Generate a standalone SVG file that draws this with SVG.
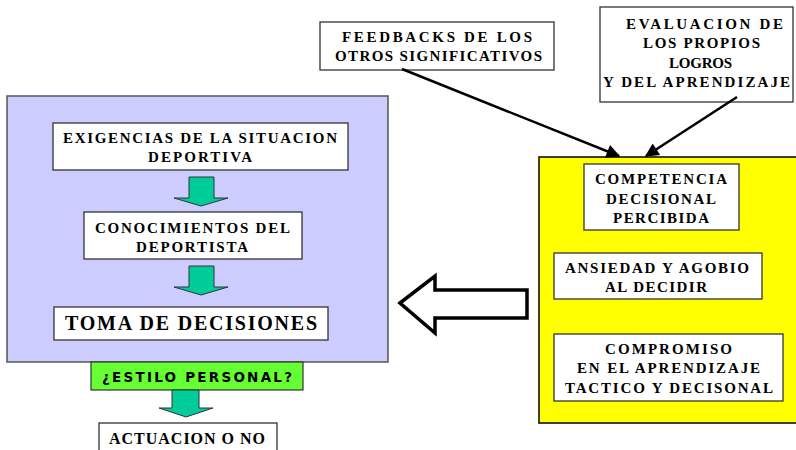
<svg xmlns="http://www.w3.org/2000/svg" width="796" height="450" viewBox="0 0 796 450">
<style>
.box{fill:#ffffff;stroke:#333333;stroke-width:1.3}
.t{font-family:'Liberation Serif','Times New Roman',serif;font-weight:700;font-size:15px;fill:#000000;text-anchor:middle}
.g{fill:#00CC99;stroke:#333333;stroke-width:1}
.conn{stroke:#000000;stroke-width:2.5;fill:none}
</style>
<defs>
<marker id="ah" viewBox="0 0 10 10" refX="9" refY="5" markerWidth="6.5" markerHeight="5.5" orient="auto" markerUnits="strokeWidth">
<path d="M0,0 L10,5 L0,10 z" fill="#000000"/>
</marker>
</defs>
<rect width="796" height="450" fill="#ffffff"/>

<g id="panel-left">
<rect x="7" y="96" width="381" height="266" fill="#CCCCFF" stroke="#555555" stroke-width="1.5"/>
</g>
<g id="panel-right">
<rect x="539" y="157" width="262" height="266" fill="#FFFF00" stroke="#000000" stroke-width="1.5"/>
</g>

<g id="exigencias">
<rect class="box" x="53" y="123" width="295" height="47"/>
<text class="t" x="200" y="142.5" textLength="274" lengthAdjust="spacing">EXIGENCIAS DE LA SITUACION</text>
<text class="t" x="200" y="162" textLength="104" lengthAdjust="spacing">DEPORTIVA</text>
</g>
<g id="conocimientos">
<rect class="box" x="84" y="212" width="218" height="47"/>
<text class="t" x="192.5" y="232.5" textLength="195" lengthAdjust="spacing">CONOCIMIENTOS DEL</text>
<text class="t" x="192" y="251.5" textLength="112" lengthAdjust="spacing">DEPORTISTA</text>
</g>
<g id="toma">
<rect class="box" x="54" y="307" width="274" height="33"/>
<text class="t" x="191" y="329.5" style="font-size:20px" textLength="252" lengthAdjust="spacing">TOMA DE DECISIONES</text>
</g>
<g id="estilo">
<rect x="91" y="362" width="212" height="28" fill="#66FF33" stroke="#333333" stroke-width="1.2"/>
<text x="197" y="381.5" font-family="'DejaVu Sans',sans-serif" font-weight="bold" font-size="13.5" fill="#000000" text-anchor="middle" textLength="190" lengthAdjust="spacing">¿ESTILO PERSONAL?</text>
</g>
<g id="actuacion">
<rect class="box" x="99" y="423" width="178" height="40"/>
<text class="t" x="187" y="443.5" style="font-size:16px" textLength="156" lengthAdjust="spacing">ACTUACION O NO</text>
</g>

<g id="feedbacks">
<rect class="box" x="320" y="22" width="234" height="48"/>
<text class="t" x="437" y="42" textLength="190" lengthAdjust="spacing">FEEDBACKS DE LOS</text>
<text class="t" x="438.5" y="61" textLength="207" lengthAdjust="spacing">OTROS SIGNIFICATIVOS</text>
</g>
<g id="evaluacion">
<rect class="box" x="600" y="7" width="193" height="95"/>
<text class="t" x="704.5" y="28.5" textLength="157" lengthAdjust="spacing">EVALUACION DE</text>
<text class="t" x="701.5" y="48" textLength="117" lengthAdjust="spacing">LOS PROPIOS</text>
<text class="t" x="700.5" y="67.5" textLength="63" lengthAdjust="spacing">LOGROS</text>
<text class="t" x="696.5" y="87" textLength="187" lengthAdjust="spacing">Y DEL APRENDIZAJE</text>
</g>

<g id="competencia">
<rect class="box" x="584" y="164" width="155" height="66"/>
<text class="t" x="661" y="184" textLength="132" lengthAdjust="spacing">COMPETENCIA</text>
<text class="t" x="661" y="203.5" textLength="110" lengthAdjust="spacing">DECISIONAL</text>
<text class="t" x="661" y="223" textLength="96" lengthAdjust="spacing">PERCIBIDA</text>
</g>
<g id="ansiedad">
<rect class="box" x="554" y="253" width="208" height="46"/>
<text class="t" x="657" y="273" textLength="184" lengthAdjust="spacing">ANSIEDAD Y AGOBIO</text>
<text class="t" x="656" y="291.5" textLength="102" lengthAdjust="spacing">AL DECIDIR</text>
</g>
<g id="compromiso">
<rect class="box" x="554" y="334" width="229" height="67"/>
<text class="t" x="668.5" y="354" textLength="127" lengthAdjust="spacing">COMPROMISO</text>
<text class="t" x="668.5" y="373" textLength="183" lengthAdjust="spacing">EN EL APRENDIZAJE</text>
<text class="t" x="669" y="392.5" textLength="208" lengthAdjust="spacing">TACTICO Y DECISONAL</text>
</g>

<g id="connectors">
<polygon class="g" points="189,177 214,177 214,198 228,198 201,206 174,198 189,198"/>
<polygon class="g" points="189,266 214,266 214,287 228,287 201,295 174,287 189,287"/>
<polygon class="g" points="172,390 199,390 199,408 213,408 186,417 159,408 172,408"/>
<polygon points="400,303 435,276 435,290 527,290 527,318 435,318 435,333" fill="#ffffff" stroke="#000000" stroke-width="3.5" stroke-linejoin="miter"/>
<line class="conn" x1="402" y1="69" x2="619" y2="156" marker-end="url(#ah)"/>
<line class="conn" x1="737" y1="97" x2="646" y2="156" marker-end="url(#ah)"/>
</g>
</svg>
